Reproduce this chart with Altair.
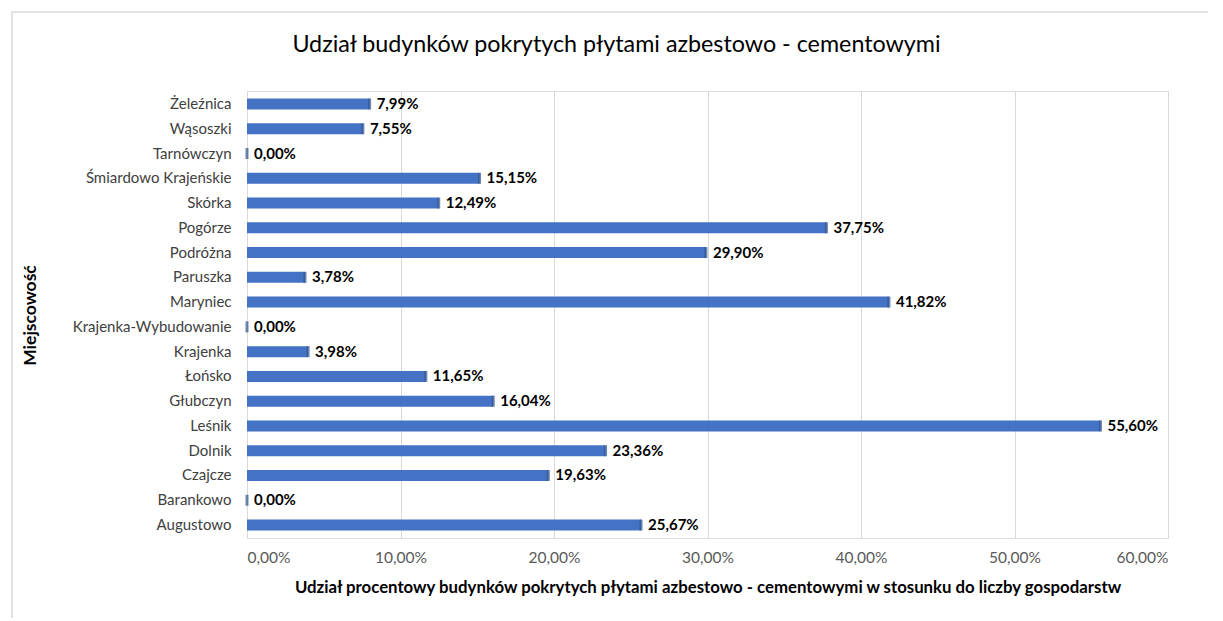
import altair as alt
import pandas as pd

places = ["Żeleźnica", "Wąsoszki", "Tarnówczyn", "Śmiardowo Krajeńskie", "Skórka",
          "Pogórze", "Podróżna", "Paruszka", "Maryniec", "Krajenka-Wybudowanie",
          "Krajenka", "Łońsko", "Głubczyn", "Leśnik", "Dolnik", "Czajcze",
          "Barankowo", "Augustowo"]
shares = [7.99, 7.55, 0.00, 15.15, 12.49, 37.75, 29.90, 3.78, 41.82, 0.00,
          3.98, 11.65, 16.04, 55.60, 23.36, 19.63, 0.00, 25.67]
title_text = "Udział budynków pokrytych płytami azbestowo - cementowymi"

df = pd.DataFrame({"place": places, "share": shares})

FONT = "Lato"

base = alt.Chart(df).transform_calculate(frac="datum.share / 100")

y_enc = alt.Y("place:N", sort=places,
              scale=alt.Scale(paddingInner=0.55, paddingOuter=0.3),
              axis=alt.Axis(title="Miejscowość", titleFont=FONT, titleFontSize=17.5,
                            titleFontWeight="bold", titleColor="#000000",
                            titleX=-217, titleY=224, titleAngle=-90,
                            titleAlign="center", titleBaseline="middle",
                            labelFont=FONT, labelFontSize=15, labelColor="#404040",
                            labelPadding=16, ticks=False, domain=False, grid=False))

x_enc = alt.X("frac:Q", scale=alt.Scale(domain=[0, 0.6], nice=False),
              axis=alt.Axis(format=".2%", values=[0, 0.1, 0.2, 0.3, 0.4, 0.5, 0.6],
                            title="Udział procentowy budynków pokrytych płytami azbestowo - cementowymi w stosunku do liczby gospodarstw",
                            titleFont=FONT, titleFontSize=16.8, titleFontWeight="bold",
                            titleColor="#000000", titlePadding=14,
                            labelFont=FONT, labelFontSize=15.5, labelColor="#595959",
                            labelPadding=12, ticks=False, domain=False,
                            grid=True, gridColor="#d9d9d9", gridWidth=1))

bars = base.mark_bar(size=11, color="#4472C4").encode(x=x_enc, y=y_enc)
ends = base.mark_tick(orient="vertical", thickness=3, size=11, color="#2F528F").encode(
    x="frac:Q", y=alt.Y("place:N", sort=places))
labels = base.mark_text(align="left", baseline="middle", dx=7, font=FONT,
                        fontSize=15, fontWeight="bold", color="#000000").encode(
    x="frac:Q", y=alt.Y("place:N", sort=places),
    text=alt.Text("frac:Q", format=".2%"))

frame = alt.Chart(df.head(1)).mark_rect(fill=None, stroke="#d9d9d9", strokeWidth=1.5,
                                         clip=False).encode(
    x=alt.value(-235), x2=alt.value(990), y=alt.value(-79), y2=alt.value(540))

title = alt.Chart(df.head(1)).mark_text(font=FONT, fontSize=23.3, color="#000000",
                                         align="center", baseline="middle").encode(
    x=alt.value(369.5), y=alt.value(-46), text=alt.value(title_text))

chart = alt.layer(frame, bars, ends, labels, title).properties(
    width=921, height=447,
    autosize=alt.AutoSizeParams(type="none"),
    padding={"left": 239, "top": 83, "right": 40, "bottom": 80},
).configure_view(stroke=None).configure(
    locale={"number": {"decimal": ",", "thousands": " ", "grouping": [3],
                       "currency": ["", " zł"]}}
)

chart.save("out.html", embed_options={"renderer": "svg", "actions": False})
